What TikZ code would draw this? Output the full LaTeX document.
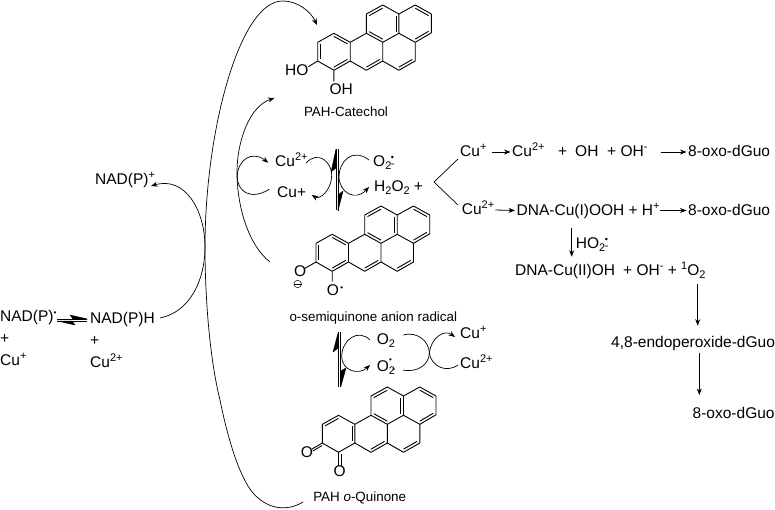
\documentclass[tikz,border=0pt]{standalone}
\usepackage{fontspec}
\setmainfont{Liberation Sans}
\usetikzlibrary{arrows.meta,calc}
\newcommand\subr[1]{\raisebox{-3pt}{\fontsize{11}{11}\selectfont #1}}
\newcommand\supr[1]{\raisebox{6pt}{\fontsize{11}{11}\selectfont #1}}
\newcommand\radm{\subr{2}\kern-0.5pt\rlap{\raisebox{6pt}{\fontsize{9}{9}\selectfont •}}\raisebox{-1pt}{\fontsize{11}{11}\selectfont -}}
\newcommand\dbl[3]{\draw[bondline] ($(#1)!.17!(#3)$) -- ($(#2)!.17!(#3)$);}
\newcommand\pah[3]{%
 \begin{scope}[shift={(#1,#2)}]
 \foreach \n/\x/\y in {a/0/0,b/16.2/-9,c/32.5/0,d/48.7/-9,e/48.7/-28.3,f/65/-37.3,g/81.2/-28.3,h/97.5/-37.3,i/113.7/-28.3,j/113.7/-9.5,k/97.5/0,l/97.5/18.7,m/81.2/28,n/65/18.7,o/48.7/28,p/32.5/18.7,q/16.2/28,r/0/18.7,s/65/0,t/81.2/-9}
   {\coordinate (\n) at (\x,\y);}
 \coordinate (R1) at (16.2,9.35);
 \coordinate (R2) at (48.7,9.35);
 \coordinate (R3) at (65,-18.6);
 \coordinate (R4) at (97.5,-18.6);
 \coordinate (R5) at (81.2,9.35);
 \draw[bondline] (a)--(b)--(c)--(d)--(e)--(f)--(g)--(h)--(i)--(j)--(k)--(l)--(m)--(n)--(o)--(p)--(q)--(r)--cycle;
 \draw[bondline] (c)--(p) (d)--(s)--(t)--(g) (t)--(k) (s)--(n);
 \dbl{d}{s}{R3}\dbl{e}{f}{R3}\dbl{g}{t}{R3}\dbl{h}{i}{R4}\dbl{j}{k}{R4}\dbl{l}{m}{R5}\dbl{n}{o}{R2}
 #3
 \end{scope}}
\newcommand\hdraw[3]{\draw[arr] ([shift={(#1,-5)}]#2.base east) -- ([shift={(-1.5,-5)}]#3.base west);}
\tikzset{
 bondline/.style={line width=0.9pt,line join=round},
 arr/.style={line width=0.8pt,-{Stealth[length=6.5pt,width=5pt]}},
 curve/.style={line width=0.7pt},
 curvea/.style={line width=0.7pt,-{Stealth[length=6.5pt,width=5pt]}},
 lab/.style={anchor=base west,inner sep=0pt,font=\fontsize{15.5}{18}\selectfont},
 capt/.style={anchor=base,inner sep=0pt,font=\fontsize{13.4}{16}\selectfont},
 harp/.style={fill=black,draw=black,line width=0.4pt,line join=round}
}
\begin{document}
\begin{tikzpicture}[x=1pt,y=-1pt]
\useasboundingbox (0,0) rectangle (775,510);
% molecules
\pah{317.7}{42.3}{\dbl{a}{r}{R1}\dbl{b}{c}{R1}\dbl{p}{q}{R1}}
\pah{316}{243.3}{\dbl{a}{r}{R1}\dbl{b}{c}{R1}\dbl{p}{q}{R1}}
\pah{322.3}{424.3}{\dbl{a}{b}{R1}\dbl{c}{p}{R1}
  \draw[bondline] (r)--++(-10.5,6.1) ++(0.9,1.9)--++(9.5,-5.5);
  \draw[bondline] (q)--++(0,14) ++(2.5,0)--++(0,-12.5);
}
% catechol substituents
\node[lab] (ho) at (285,76) {HO};
\node[lab] (oh) at (329.3,95) {OH};
\coordinate (cr) at (317.7,61); \coordinate (cq) at (333.9,70.3);
\coordinate (hoe) at (308.3,66.7); \coordinate (ohe) at (333.9,81.5);
\draw[bondline] (cr)--(hoe) (cq)--(ohe);
% semiquinone substituents
\node[lab] (om) at (294,276.7) {O};
\node[lab] (or) at (326.7,295) {O};
\node[anchor=center,inner sep=0pt,font=\fontsize{8}{8}\selectfont] (rdot) at (341.7,289) {•};
\node[draw,circle,inner sep=0pt,minimum size=7.5pt,line width=0.5pt] (minus) at (297.7,284) {};
\draw[line width=0.5pt] (minus.west)--(minus.east);
\coordinate (sr) at (316,262); \coordinate (sq) at (332.2,271.3);
\coordinate (sre) at (305,268.3); \coordinate (sqe) at (332.2,281.5);
\draw[bondline] (sr)--(sre) (sq)--(sqe);
% quinone oxygens
\node[lab] (oa) at (300.7,457.7) {O};
\node[lab] (ob) at (333.3,476.7) {O};
% captions
\node[capt] (c1) at (346,117) {PAH-Catechol};
\node[capt] (c2) at (373.3,321.7) {o-semiquinone anion radical};
\node[capt] (c3) at (359.7,501.7) {PAH \textit{o}-Quinone};
% centre species
\node[lab] (cu2) at (275,166.7) {Cu\supr{2+}};
\node[lab] (cup) at (277,198) {Cu+};
\node[lab] (o2r) at (373,167) {O\radm};
\node[lab] (h2o2) at (374,191.7) {H\subr{2}O\subr{2}\ +};
\node[lab] (o2) at (376.7,344) {O\subr{2}};
\node[lab] (o2m) at (376.7,371.7) {O\subr{2}\kern-6pt\raisebox{9.5pt}{\fontsize{8}{8}\selectfont •}\raisebox{-1pt}{\fontsize{11}{11}\selectfont -}};
\node[lab] (cub) at (460,338) {Cu\supr{+}};
\node[lab] (cuc) at (460,368) {Cu\supr{2+}};
% left
\node[lab] (nadp) at (95,185) {NAD(P)\supr{+}};
\node[lab] (nadr) at (0,321.7) {NAD(P)\raisebox{6.5pt}{\fontsize{8}{8}\selectfont •}};
\node[lab] (nadh) at (90,323) {NAD(P)H};
\node[lab] (p1) at (0,343) {+};
\node[lab] (p2) at (90,345) {+};
\node[lab] (cul1) at (0,365) {Cu\supr{+}};
\node[lab] (cul2) at (90,367.5) {Cu\supr{2+}};
% right
\node[lab] (r1) at (460,157) {Cu\supr{+}};
\node[lab] (r2) at (512,157) {Cu\supr{2+}};
\node[lab] (r3) at (558,157) {+};
\node[lab] (r4) at (575,157) {OH};
\node[lab] (r5) at (607,157) {+ OH\supr{-}};
\node[lab] (r6) at (688,157) {8-oxo-dGuo};
\node[lab] (s1) at (461.7,215) {Cu\supr{2+}};
\node[lab] (s2) at (516.5,215.5) {DNA-Cu(I)OOH + H\supr{+}};
\node[lab] (s3) at (688,215.5) {8-oxo-dGuo};
\node[lab] (t0) at (575.7,248.5) {HO\radm};
\node[lab] (t1) at (515,276) {DNA-Cu(II)OH};
\node[lab] (t2) at (623,276) {+ OH\supr{-} + \supr{1}O\subr{2}};
\node[lab] (u1) at (611,347) {4,8-endoperoxide-dGuo};
\node[lab] (v1) at (692.5,418.5) {8-oxo-dGuo};
% straight arrows
\hdraw{5}{r1}{r2}
\hdraw{13}{r5}{r6}
\hdraw{1}{s1}{s2}
\hdraw{0.5}{s2}{s3}
\coordinate (da) at (571.7,227.7); \coordinate (db) at (571.7,256.7);
\draw[arr] (da) -- (db);
\coordinate (ea) at (697.7,284); \coordinate (eb) at (697.7,325.7);
\draw[arr] (ea) -- (eb);
\coordinate (ga) at (699.3,352.7); \coordinate (gb) at (699.3,395);
\draw[arr] (ga) -- (gb);
% fork
\coordinate (fa) at (458,159); \coordinate (fb) at (434,182); \coordinate (fc) at (458,205);
\draw[line width=0.7pt] (fa)--(fb)--(fc);
% big curves
\coordinate (bs) at (303,502); \coordinate (be) at (317,25);
\draw[curvea] (bs) .. controls (290,510) and (270,512) .. (253,493)
  .. controls (240,478) and (228,440) .. (220,400)
  .. controls (210,360) and (205,300) .. (205,247)
  .. controls (205,130) and (240,0) .. (283,1)
  .. controls (298,1) and (311,12) .. (be);
\coordinate (is) at (270,262); \coordinate (ie) at (274.5,98);
\draw[curvea] (is) .. controls (248,245) and (237,205) .. (237,173)
  .. controls (237,140) and (250,106) .. (ie);
\coordinate (ns) at (160,318); \coordinate (ne) at (151,186);
\draw[curvea] (ns) .. controls (190,312) and (205,280) .. (205,247)
  .. controls (205,210) and (185,176) .. (ne);
% small arcs
\draw[curvea] (269.3,189.3) .. controls (250,201) and (237.3,191) .. (237.3,176.7)
  .. controls (237.3,160) and (252,150) .. (268.3,162.7);
\draw[curvea] (306,163) .. controls (318,150) and (331.7,162) .. (331.7,175)
  .. controls (331.7,190) and (320,200) .. (311.7,195);
\draw[curvea] (369,160) .. controls (352,147) and (339,162) .. (339,176.7)
  .. controls (339,192) and (355,202) .. (369,187);
\draw[curvea] (370,340) .. controls (358,328) and (341.7,340) .. (341.7,356.7)
  .. controls (341.7,370) and (358,376) .. (370,365);
\draw[curve] (403.3,335) .. controls (418,331) and (429.3,342) .. (429.3,353)
  .. controls (429.3,364) and (418,373) .. (403,370);
\draw[curvea] (429.3,353) .. controls (431,338) and (444,329) .. (455,337);
\draw[curve] (429.3,353) .. controls (431,365) and (445,374) .. (458,365);
% equilibrium harpoons
\draw[harp] (336,149)--(331,172)--(336,168)--cycle; \draw[line width=0.9pt] (336,149)--(336,210);
\draw[harp] (338,211)--(343,191)--(338,195)--cycle; \draw[line width=0.9pt] (338,211)--(338,149);
\draw[harp] (338.3,332)--(333,352)--(338.3,348)--cycle; \draw[line width=0.9pt] (338.3,332)--(338.3,387);
\draw[harp] (340.7,387)--(346,368)--(340.7,371)--cycle; \draw[line width=0.9pt] (340.7,387)--(340.7,332);
\draw[harp] (87.3,319)--(70,315)--(73,319)--cycle; \draw[line width=0.9pt] (57.3,319)--(87.3,319);
\draw[harp] (57.3,321)--(75,325)--(72,321)--cycle; \draw[line width=0.9pt] (57.3,321)--(87.3,321);
\end{tikzpicture}
\end{document}
